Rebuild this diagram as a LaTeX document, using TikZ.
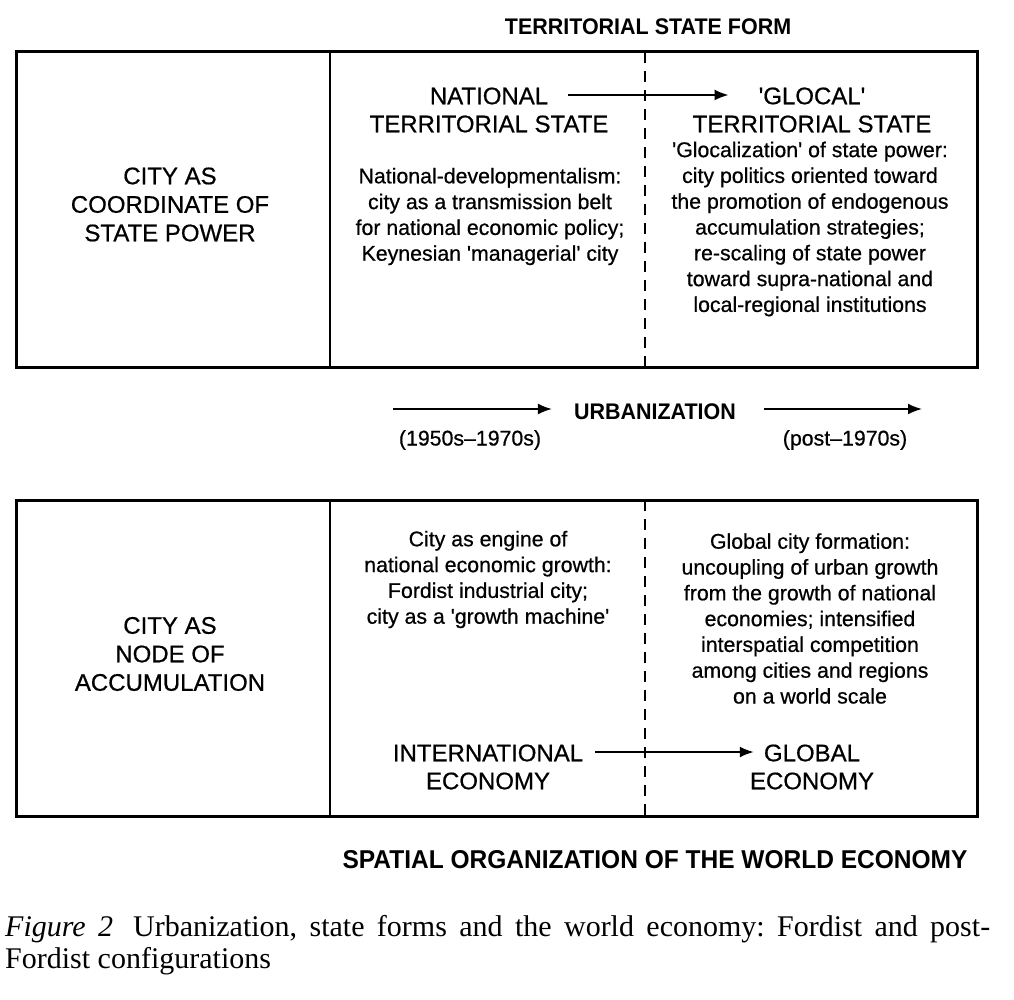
\documentclass[tikz,border=0pt]{standalone}
\usepackage{fontspec}
\setmainfont{Liberation Sans}[FakeBold=0.6]
\newfontfamily\headfont{Liberation Sans}[FakeStretch=0.95]
\newfontfamily\capfont{Liberation Serif}
\usetikzlibrary{arrows.meta}

\begin{document}
\begin{tikzpicture}[x=1pt,y=-1pt,
  frame/.style={line width=3pt},
  divider/.style={line width=1.8pt},
  dashdiv/.style={line width=1.8pt, dash pattern=on 11pt off 8pt},
  arr/.style={line width=1.8pt, -{Latex[length=14pt,width=11pt]}},
  caps/.style={align=center, inner sep=0pt, font=\fontsize{24}{28.5}\selectfont},
  body/.style={align=center, inner sep=0pt, font=\fontsize{21.3}{25.8}\selectfont},
  head/.style={inner sep=0pt, font=\headfont\bfseries\fontsize{22.6}{26}\selectfont},
  bighead/.style={inner sep=0pt, font=\headfont\bfseries\fontsize{25.8}{28}\selectfont},
  captext/.style={anchor=base west, inner sep=0pt, font=\capfont\fontsize{30}{32}\selectfont\frenchspacing},
]
\useasboundingbox (0,0) rectangle (1014,1000);

% upper panel: the state form
\draw[frame] (16,52) rectangle (977,367);
\draw[divider] (330,52) -- (330,367);
\draw[dashdiv] (645,52) -- (645,367);

\node[head] (tsf) at (648,27) {TERRITORIAL STATE FORM};
\node[caps] (cosp) at (170,204.5) {CITY AS\\COORDINATE OF\\STATE POWER};

\node[caps] (nat) at (489,96) {NATIONAL};
\node[caps] (nts) at (489,124) {TERRITORIAL STATE};
\node[caps] (glo) at (812,96) {\textquotesingle GLOCAL\textquotesingle};
\node[caps] (gts) at (812,124) {TERRITORIAL STATE};
\draw[arr] ([xshift=20pt,yshift=1pt]nat.east) -- ([xshift=-30pt,yshift=1pt]glo.west);

\node[body] (natdev) at (490,216.5) {National-developmentalism:\\city as a transmission belt\\for national economic policy;\\Keynesian \textquotesingle managerial\textquotesingle{} city};
\node[body] (glocz) at (810,229) {\textquotesingle Glocalization\textquotesingle{} of state power:\\city politics oriented toward\\the promotion of endogenous\\accumulation strategies;\\re-scaling of state power\\toward supra-national and\\local-regional institutions};

% urbanization timeline
\node[head] (urb) at (655,412) {URBANIZATION};
\coordinate (u1) at (393,409);
\coordinate (u2e) at (922,409);
\draw[arr] (u1) -- ([xshift=-22pt,yshift=3pt]urb.west);
\draw[arr] ([xshift=28pt,yshift=3pt]urb.east) -- (u2e);
\node[body] (p1) at (470,440) {(1950s--1970s)};
\node[body] (p2) at (845,440) {(post--1970s)};

% lower panel: the world economy
\draw[frame] (16,500) rectangle (977,816);
\draw[divider] (330,500) -- (330,816);
\draw[dashdiv] (645,500) -- (645,816);

\node[caps] (cona) at (170,654) {CITY AS\\NODE OF\\ACCUMULATION};
\node[body] (engine) at (488,579.5) {City as engine of\\national economic growth:\\Fordist industrial city;\\city as a \textquotesingle growth machine\textquotesingle};
\node[body] (gcf) at (810,618.5) {Global city formation:\\uncoupling of urban growth\\from the growth of national\\economies; intensified\\interspatial competition\\among cities and regions\\on a world scale};

\node[caps] (intl) at (488,753) {INTERNATIONAL};
\node[caps] (ie) at (488,781) {ECONOMY};
\node[caps] (glob) at (812,753) {GLOBAL};
\node[caps] (ge) at (812,781) {ECONOMY};
\draw[arr] ([xshift=12pt,yshift=1pt]intl.east) -- ([xshift=-10pt,yshift=1pt]glob.west);

\node[bighead] (sowe) at (655,860) {SPATIAL ORGANIZATION OF THE WORLD ECONOMY};

% caption
\node[captext] (cap1) at (5,936) {\makebox[985pt][s]{\textit{Figure 2}\hspace{20pt}Urbanization, state forms and the world economy: Fordist and post-}};
\node[captext] (cap2) at (5,968) {Fordist configurations};
\end{tikzpicture}
\end{document}
